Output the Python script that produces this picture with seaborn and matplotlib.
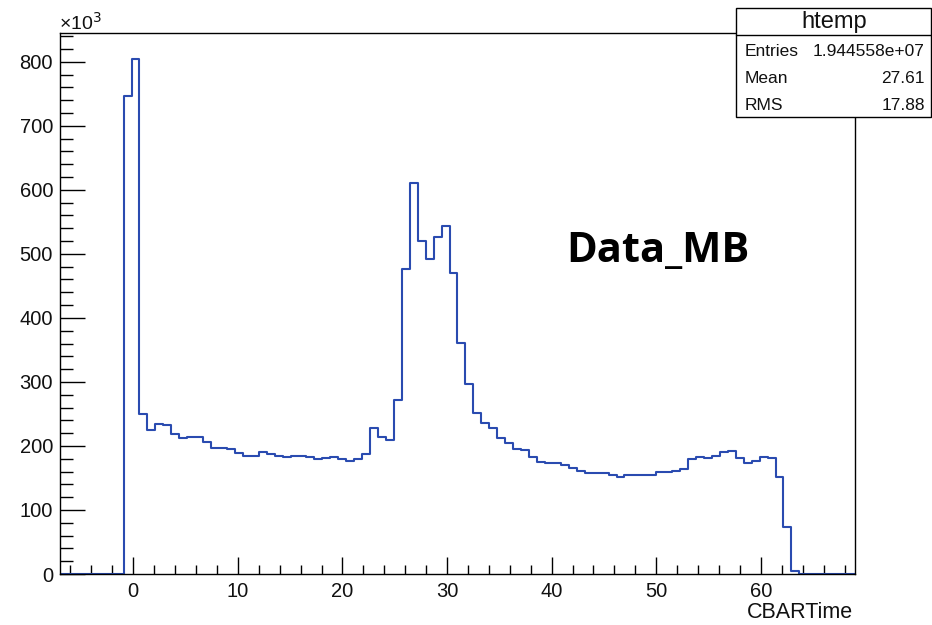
import numpy as np
import pandas as pd
import matplotlib
matplotlib.use("Agg")
import matplotlib.pyplot as plt
from matplotlib.ticker import MultipleLocator
from matplotlib.patches import Rectangle
import seaborn as sns

# ---- data (counts in units of 10^3 per bin) ----
bin_range = (-7.0, 69.0)
n_bins = 100
counts_k = [0, 0, 0, 0, 0, 0, 0, 0,
            746, 805, 250, 225, 234, 232, 219, 212, 214, 214, 206, 197,
            197, 195, 189, 185, 185, 190, 188, 185, 183, 185, 185, 183,
            179, 181, 182, 180, 177, 179, 188, 228, 214, 210, 272, 477,
            610, 520, 492, 526, 543, 470, 361, 297, 252, 236, 228, 212,
            204, 196, 194, 183, 175, 173, 173, 170, 165, 161, 157, 157,
            157, 154, 152, 154, 154, 154, 155, 159, 159, 161, 164, 179,
            183, 181, 184, 190, 192, 181, 174, 177, 183, 181, 152, 74, 5,
            0, 0, 0, 0, 0, 0, 0]
y_ticks = [0, 100, 200, 300, 400, 500, 600, 700, 800]
x_ticks = [0, 10, 20, 30, 40, 50, 60]
stats_title = "htemp"
stats_rows = [("Entries", "1.944558e+07"), ("Mean", "27.61"), ("RMS", "17.88")]
x_label = "CBARTime"
annotation = "Data_MB"

edges = np.linspace(bin_range[0], bin_range[1], n_bins + 1)
centers = 0.5 * (edges[:-1] + edges[1:])
df = pd.DataFrame({"CBARTime": centers, "count": counts_k})

sns.set_style("white")
plt.rcParams["font.family"] = ["Liberation Sans", "DejaVu Sans"]

W, H = 932, 625
fig = plt.figure(figsize=(W / 100, H / 100), dpi=100)
ax = fig.add_axes([60 / W, 1 - 574 / H, (855 - 60) / W, (574 - 33) / H])

sns.histplot(data=df, x="CBARTime", weights="count", bins=n_bins,
             binrange=bin_range, element="step", fill=False,
             color="#2a4bb0", linewidth=1.5, ax=ax)

ax.set_xlim(*bin_range)
ax.set_ylim(0, 845)
ax.set_xticks(x_ticks)
ax.set_yticks(y_ticks)
ax.xaxis.set_minor_locator(MultipleLocator(2))
ax.yaxis.set_minor_locator(MultipleLocator(20))
ax.tick_params(axis="both", which="both", direction="in", colors="black",
               width=1.0, labelsize=14.5, bottom=True, left=True,
               top=False, right=False)
ax.tick_params(axis="y", which="major", length=18, pad=5)
ax.tick_params(axis="y", which="minor", length=9.4)
ax.tick_params(axis="x", which="major", length=12, pad=6)
ax.tick_params(axis="x", which="minor", length=6.5)
ax.tick_params(axis="both", labelcolor="#111111")
for s in ax.spines.values():
    s.set_color("black")
    s.set_linewidth(1.0)
ax.set_xlabel("")
ax.set_ylabel("")

# x-axis title, right aligned
fig.text(853 / W, 1 - 612 / H, x_label, ha="right", va="center",
         fontsize=15.5, color="#111111")
# exponent label
fig.text(59 / W, 1 - 23 / H, "×10$^{3}$", ha="left", va="center",
         fontsize=14, color="#111111")
# annotation
fig.text(566 / W, 1 - 262 / H, annotation, ha="left", va="baseline",
         fontsize=30, fontweight="bold", family=["Open Sans", "DejaVu Sans"],
         color="black")

# stats box
bx0, bx1, by0, by1 = 736, 931, 8.5, 117.5
fig.patches.append(Rectangle((bx0 / W, 1 - by1 / H), (bx1 - bx0) / W, (by1 - by0) / H,
                             transform=fig.transFigure, facecolor="white",
                             edgecolor="black", linewidth=1.0, zorder=5))
fig.lines.append(plt.Line2D([bx0 / W, bx1 / W], [1 - 35 / H, 1 - 35 / H],
                            transform=fig.transFigure, color="black",
                            linewidth=1.0, zorder=6))
fig.text(834 / W, 1 - 22 / H, stats_title, ha="center", va="center",
         fontsize=17, color="#111111", zorder=7)
row_y = [51, 78.5, 106]
for (name, val), yy in zip(stats_rows, row_y):
    fig.text(745 / W, 1 - yy / H, name, ha="left", va="center",
             fontsize=12.5, color="#111111", zorder=7)
    fig.text(925 / W, 1 - yy / H, val, ha="right", va="center",
             fontsize=12.5, color="#111111", zorder=7)

fig.savefig("out.png", dpi=100, facecolor="white")
